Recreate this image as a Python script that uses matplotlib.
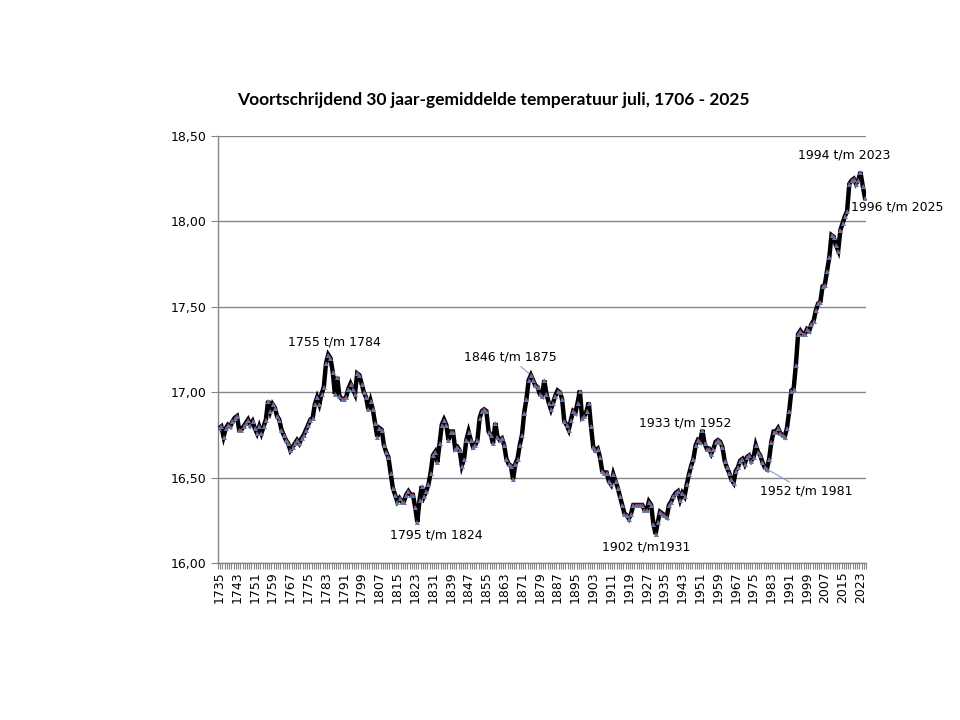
"""
Voortschrijdend 30 jaar-gemiddelde temperatuur juli, 1706 - 2025.
Line chart in the style of a spreadsheet chart.
"""
import numpy as np
import matplotlib
matplotlib.use('Agg')
import matplotlib.pyplot as plt
from matplotlib.ticker import FuncFormatter

# --- Data: end year of each 30-year window and its mean July temperature ---
first_year = 1735
last_year = 2025

temps = [
    # 1735 - 1759
    16.79, 16.80, 16.74, 16.79, 16.81, 16.80, 16.83, 16.85, 16.86, 16.78,
    16.78, 16.80, 16.82, 16.84, 16.81, 16.83, 16.79, 16.76, 16.80, 16.76,
    16.80, 16.84, 16.95, 16.89, 16.93,
    # 1760 - 1784
    16.91, 16.86, 16.84, 16.78, 16.75, 16.72, 16.70, 16.66, 16.68, 16.70,
    16.72, 16.70, 16.73, 16.75, 16.78, 16.81, 16.84, 16.85, 16.93, 16.97,
    16.93, 16.99, 17.03, 17.17, 17.22,
    # 1785 - 1809
    17.20, 17.12, 16.99, 17.09, 16.98, 16.96, 16.96, 16.97, 17.02, 17.05,
    17.02, 16.99, 17.11, 17.10, 17.05, 17.00, 16.97, 16.90, 16.95, 16.90,
    16.82, 16.74, 16.79, 16.78, 16.69,
    # 1810 - 1834
    16.65, 16.62, 16.53, 16.44, 16.40, 16.36, 16.38, 16.36, 16.36, 16.40,
    16.42, 16.40, 16.40, 16.33, 16.24, 16.37, 16.45, 16.39, 16.42, 16.46,
    16.53, 16.63, 16.65, 16.59, 16.70,
    # 1835 - 1859
    16.81, 16.84, 16.81, 16.72, 16.77, 16.77, 16.67, 16.68, 16.66, 16.57,
    16.61, 16.72, 16.77, 16.72, 16.68, 16.69, 16.72, 16.85, 16.89, 16.90,
    16.89, 16.77, 16.75, 16.70, 16.82,
    # 1860 - 1884
    16.74, 16.72, 16.73, 16.69, 16.61, 16.58, 16.57, 16.49, 16.58, 16.61,
    16.69, 16.75, 16.88, 16.96, 17.07, 17.10, 17.07, 17.04, 17.03, 16.99,
    16.98, 17.07, 16.99, 16.94, 16.90,
    # 1885 - 1909
    16.94, 16.98, 17.01, 17.00, 16.96, 16.83, 16.81, 16.78, 16.84, 16.89,
    16.88, 16.94, 17.01, 16.85, 16.86, 16.89, 16.94, 16.80, 16.68, 16.66,
    16.67, 16.62, 16.54, 16.53, 16.53,
    # 1910 - 1934
    16.48, 16.46, 16.52, 16.48, 16.44, 16.39, 16.34, 16.29, 16.28, 16.26,
    16.29, 16.34, 16.34, 16.34, 16.34, 16.34, 16.31, 16.31, 16.36, 16.34,
    16.23, 16.17, 16.24, 16.30, 16.29,
    # 1935 - 1959
    16.28, 16.27, 16.34, 16.36, 16.39, 16.41, 16.42, 16.37, 16.41, 16.39,
    16.46, 16.52, 16.57, 16.61, 16.69, 16.72, 16.71, 16.78, 16.70, 16.67,
    16.67, 16.64, 16.67, 16.71, 16.72,
    # 1960 - 1984
    16.71, 16.68, 16.60, 16.56, 16.53, 16.49, 16.47, 16.54, 16.56, 16.60,
    16.61, 16.58, 16.62, 16.63, 16.60, 16.62, 16.69, 16.65, 16.63, 16.59,
    16.56, 16.55, 16.61, 16.71, 16.77,
    # 1985 - 2009
    16.77, 16.79, 16.76, 16.75, 16.74, 16.79, 16.89, 17.01, 17.02, 17.16,
    17.34, 17.36, 17.34, 17.34, 17.37, 17.36, 17.40, 17.42, 17.48, 17.52,
    17.53, 17.62, 17.63, 17.71, 17.79,
    # 2010 - 2025
    17.92, 17.91, 17.86, 17.83, 17.95, 17.99, 18.03, 18.06, 18.22, 18.24,
    18.25, 18.22, 18.24, 18.29, 18.21, 18.14,
]
years = np.arange(first_year, last_year + 1)

label_years = list(range(1735, 2024, 8))
y_ticks = [16.0, 16.5, 17.0, 17.5, 18.0, 18.5]

# annotations: (text, end year of window, offset in points, leader line)
notes = [
    ('1755 t/m 1784', 1784, (4.5, 9), False),
    ('1795 t/m 1824', 1824, (13.5, -9.5), False),
    ('1846 t/m 1875', 1875, (-15, 13), True),
    ('1902 t/m1931', 1931, (-6.5, -9.5), False),
    ('1933 t/m 1952', 1952, (-12, 5), False),
    ('1952 t/m 1981', 1981, (28, -16), True),
    ('1994 t/m 2023', 2023, (-11.5, 12), False),
    ('1996 t/m 2025', 2025, (23, -7), False),
]

GRID = '#868686'

fig = plt.figure(figsize=(9.6, 7.2), dpi=100, facecolor='white')
ax = fig.add_axes([0.2271, 0.218, 0.675, 0.593])

ax.plot(years, temps, '-', color='black', lw=3.2, zorder=3,
        solid_joinstyle='miter')
ax.plot(years, temps, '^', color='#4f81bd', ms=3.6, mew=0, zorder=4)
ax.plot(years, temps, 'o', color='#e8313a', ms=1.4, mew=0, zorder=5)

ax.set_xlim(first_year - 0.5, last_year + 0.5)
ax.set_ylim(16.0, 18.5)

# y axis
ax.set_yticks(y_ticks)
ax.yaxis.set_major_formatter(FuncFormatter(lambda v, p: f'{v:.2f}'.replace('.', ',')))
ax.grid(axis='y', color=GRID, lw=1.0)
ax.set_axisbelow(True)
ax.tick_params(axis='y', length=5, color=GRID, labelsize=9, pad=3)

# x axis: label every 8 years, tick mark at every category boundary
ax.set_xticks(label_years)
ax.set_xticklabels([str(y) for y in label_years], rotation=90, fontsize=9)
ax.set_xticks(np.arange(first_year - 0.5, last_year + 1.0, 1.0), minor=True)
ax.tick_params(axis='x', which='major', length=0, pad=6)
ax.tick_params(axis='x', which='minor', length=4, color=GRID, width=0.8)

for side in ['top', 'right']:
    ax.spines[side].set_visible(False)
for side in ['left', 'bottom']:
    ax.spines[side].set_color(GRID)
    ax.spines[side].set_linewidth(1.0)

for text, yr, off, leader in notes:
    val = temps[yr - first_year]
    arrow = dict(arrowstyle='-', color='#7da0d4', lw=0.8, shrinkA=0,
                 shrinkB=2) if leader else None
    ax.annotate(text, xy=(yr, val), xytext=off, textcoords='offset points',
                ha='center', va='center', fontsize=9, arrowprops=arrow,
                annotation_clip=False, zorder=6)

fig.text(0.514, 0.861,
         'Voortschrijdend 30 jaar-gemiddelde temperatuur juli, 1706 - 2025',
         ha='center', va='center', fontsize=12.5, fontweight='bold',
         family='Lato')

fig.savefig('out.png', dpi=100, facecolor='white')
